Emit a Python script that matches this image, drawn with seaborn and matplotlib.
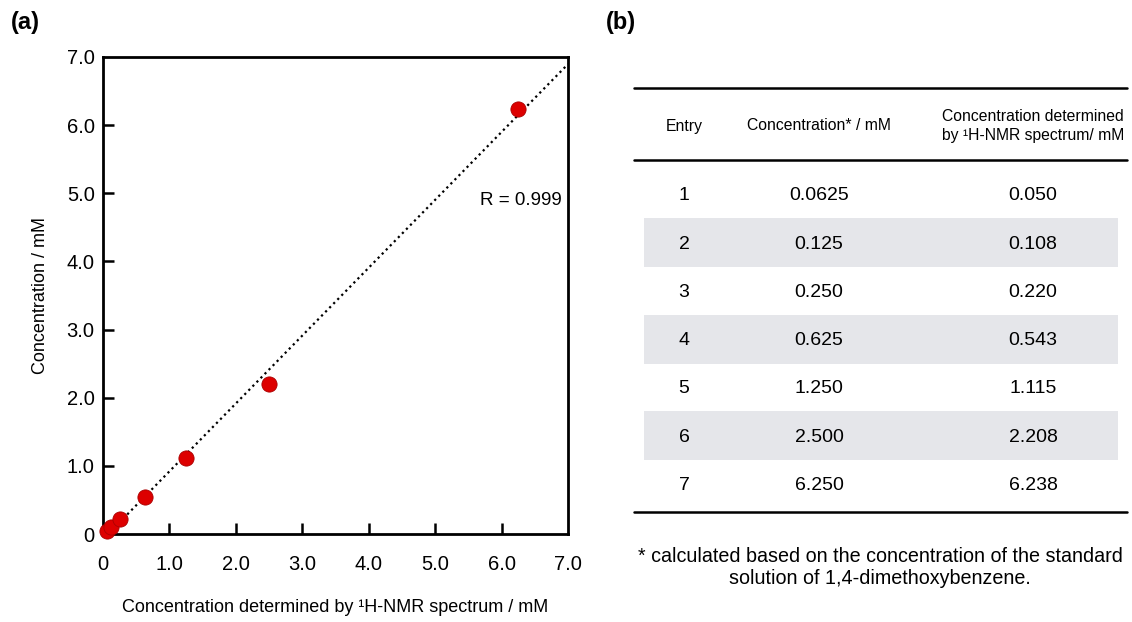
import numpy as np
import pandas as pd
import matplotlib
matplotlib.use("Agg")
import matplotlib.pyplot as plt
import seaborn as sns

# ------------ data -------------
entries = [1, 2, 3, 4, 5, 6, 7]
conc_prepared = [0.0625, 0.125, 0.250, 0.625, 1.250, 2.500, 6.250]
conc_nmr = [0.050, 0.108, 0.220, 0.543, 1.115, 2.208, 6.238]
prepared_labels = ["0.0625", "0.125", "0.250", "0.625", "1.250", "2.500", "6.250"]
nmr_labels = ["0.050", "0.108", "0.220", "0.543", "1.115", "2.208", "6.238"]
tick_vals = [0, 1, 2, 3, 4, 5, 6, 7]
tick_labels = ["0", "1.0", "2.0", "3.0", "4.0", "5.0", "6.0", "7.0"]
r_text = "R = 0.999"

df = pd.DataFrame({"x": conc_prepared, "y": conc_nmr})

sns.set_theme(style="white", rc={"text.color": "black", "axes.labelcolor": "black",
                                 "xtick.color": "black", "ytick.color": "black"})
plt.rcParams["font.family"] = ["Liberation Sans", "DejaVu Sans"]

W, H = 1132, 622
fig = plt.figure(figsize=(W / 100, H / 100), dpi=100)

# ------------ (a) scatter -------------
ax = fig.add_axes([103 / W, 1 - 534 / H, 465 / W, 477 / H])
ax.set_xlim(0, 7)
ax.set_ylim(0, 7)
sns.regplot(data=df, x="x", y="y", ax=ax, scatter=False, ci=None, truncate=False,
            line_kws=dict(color="black", linestyle=(0, (1, 1.6)), linewidth=1.6))
sns.scatterplot(data=df, x="x", y="y", ax=ax, s=120, color="#dd0000",
                edgecolor="#aa0000", linewidth=0.6, zorder=5, clip_on=False)
ax.set_xlim(0, 7)
ax.set_ylim(0, 7)

ax.set_xticks(tick_vals)
ax.set_yticks(tick_vals)
ax.set_xticklabels(tick_labels, fontsize=14.5)
ax.set_yticklabels(tick_labels, fontsize=14.5)
ax.tick_params(axis="both", direction="in", length=8, width=1.8, color="black",
               bottom=True, left=True)
ax.tick_params(axis="x", pad=15)
ax.tick_params(axis="y", pad=6)
for t in ax.xaxis.get_major_ticks()[:1] + ax.xaxis.get_major_ticks()[-1:]:
    t.tick1line.set_visible(False)
for t in ax.yaxis.get_major_ticks()[:1] + ax.yaxis.get_major_ticks()[-1:]:
    t.tick1line.set_visible(False)
for sp in ax.spines.values():
    sp.set_color("black")
    sp.set_linewidth(2)
ax.set_xlabel("Concentration determined by \u00b9H-NMR spectrum / mM", fontsize=13, labelpad=18)
ax.set_ylabel("Concentration / mM", fontsize=13, labelpad=13)
ax.text(6.29, 4.9, r_text, fontsize=13.5, ha="center", va="center")

fig.text(25 / W, 1 - 22 / H, "(a)", fontsize=17, fontweight="bold", ha="center", va="center")
fig.text(621 / W, 1 - 22 / H, "(b)", fontsize=17, fontweight="bold", ha="center", va="center")

# ------------ (b) table -------------
tb = fig.add_axes([0, 0, 1, 1])
tb.set_xlim(0, W)
tb.set_ylim(H, 0)
tb.axis("off")
tb.patch.set_alpha(0)

col_x = [684, 819, 1033]
row_y0 = 194
row_h = 48.2
for i, e in enumerate(entries):
    yc = row_y0 + i * row_h
    if i % 2 == 1:
        tb.add_patch(plt.Rectangle((644, yc - 24), 474, 49, color="#e5e6ea", lw=0, zorder=0))
    tb.text(col_x[0], yc + 2, str(e), fontsize=14, ha="center", va="center")
    tb.text(col_x[1], yc + 2, prepared_labels[i], fontsize=14, ha="center", va="center")
    tb.text(col_x[2], yc + 2, nmr_labels[i], fontsize=14, ha="center", va="center")

for yl in [88, 160, 512]:
    tb.plot([634, 1127], [yl, yl], color="black", lw=1.8)

tb.text(col_x[0], 126, "Entry", fontsize=11.3, ha="center", va="center")
tb.text(col_x[1], 126, "Concentration* / mM", fontsize=11.3, ha="center", va="center")
tb.text(col_x[2], 126, "Concentration determined\nby \u00b9H-NMR spectrum/ mM", fontsize=11.3,
        ha="center", va="center", linespacing=1.35)

tb.text(880, 567, "* calculated based on the concentration of the standard\nsolution of 1,4-dimethoxybenzene.",
        fontsize=14.2, ha="center", va="center", linespacing=1.2)

fig.savefig("out.png", dpi=100)
